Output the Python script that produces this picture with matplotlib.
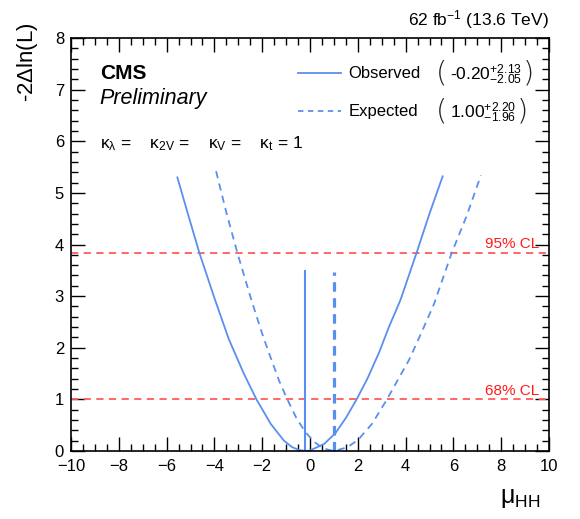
import matplotlib
matplotlib.use('Agg')
import matplotlib.pyplot as plt
from matplotlib.ticker import MultipleLocator

plt.rcParams['font.family'] = ['Liberation Sans', 'DejaVu Sans']
plt.rcParams['mathtext.fontset'] = 'custom'
plt.rcParams['mathtext.rm'] = 'Liberation Sans'
plt.rcParams['mathtext.it'] = 'Liberation Sans:italic'
plt.rcParams['mathtext.bf'] = 'Liberation Sans:bold'

# likelihood scan values
obs_mu = [-5.55, -5.10, -4.63, -3.99, -3.40, -2.77, -2.24, -1.65, -1.09, -0.75, -0.46,
          -0.20, 0.00, 0.60, 1.07, 1.50, 1.95, 2.40, 2.90, 3.30, 3.78, 4.46, 5.00, 5.55]
obs_q = [5.30, 4.58, 3.84, 2.95, 2.17, 1.50, 1.00, 0.53, 0.20, 0.075, 0.02,
         0.00, 0.01, 0.14, 0.35, 0.64, 1.00, 1.40, 1.92, 2.40, 2.92, 3.84, 4.60, 5.32]
exp_mu = [-3.93, -3.50, -3.04, -2.45, -2.00, -1.71, -1.30, -0.95, -0.55, -0.18, 0.17,
          0.55, 1.00, 1.55, 2.00, 2.60, 3.22, 3.70, 4.14, 4.65, 5.19, 5.93, 6.55, 7.15]
exp_q = [5.42, 4.62, 3.84, 2.92, 2.27, 1.89, 1.37, 1.00, 0.62, 0.36, 0.18,
         0.05, 0.00, 0.07, 0.21, 0.53, 1.00, 1.40, 1.76, 2.28, 2.85, 3.84, 4.55, 5.34]
obs_best, obs_best_h = -0.20, 3.50
exp_best, exp_best_h = 1.00, 3.46
cl_levels = [1.0, 3.84]
cl_labels = ['68% CL', '95% CL']
leg_labels = ['Observed', 'Expected']
leg_values = [r'-0.20$^{+2.13}_{-2.05}$', r'1.00$^{+2.20}_{-1.96}$']

blue = '#5a8ff0'
red = '#ff5a5a'

fig = plt.figure(figsize=(5.8, 5.19), dpi=100)
ax = fig.add_axes([0.1224, 0.131, 0.8242, 0.7958])

for lev, lab in zip(cl_levels, cl_labels):
    ax.axhline(lev, color=red, lw=1.3, ls=(0, (4, 3)))
    ax.text(9.6, lev + 0.03, lab, color='#ff1a1a', fontsize=11, ha='right', va='bottom')

ax.plot(obs_mu, obs_q, color=blue, lw=1.3)
ax.plot(exp_mu, exp_q, color=blue, lw=1.3, ls=(0, (4, 3)))
ax.vlines(obs_best, 0, obs_best_h, color=blue, lw=1.5)
ax.vlines(exp_best, 0, exp_best_h, color=blue, lw=2.3, ls=(0, (3, 2)))

ax.set_xlim(-10, 10)
ax.set_ylim(0, 8)
ax.xaxis.set_major_locator(MultipleLocator(2))
ax.xaxis.set_minor_locator(MultipleLocator(0.5))
ax.yaxis.set_major_locator(MultipleLocator(1))
ax.yaxis.set_minor_locator(MultipleLocator(0.2))
ax.tick_params(which='both', direction='in', top=True, right=True, labelsize=12, width=1)
ax.tick_params(which='major', length=10)
ax.tick_params(which='minor', length=5)
ax.tick_params(axis='x', pad=6)
ax.tick_params(axis='y', pad=5)
for s in ax.spines.values():
    s.set_linewidth(1.2)

fig.text(0.932, 0.018, r'μ$_{\mathrm{HH}}$', fontsize=18, ha='right', va='bottom')
fig.text(0.048, 0.958, r'-2$\Delta$ln(L)', fontsize=16, rotation=90, ha='center', va='top')

ax.text(0.06, 0.915, 'CMS', transform=ax.transAxes, fontsize=15, fontweight='bold', va='center')
ax.text(0.06, 0.853, 'Preliminary', transform=ax.transAxes, fontsize=15.5, style='italic',
        va='center')
ax.text(0.06, 0.745,
        r'κ$_{\mathrm{λ}}$ =    κ$_{\mathrm{2V}}$ =    κ$_{\mathrm{V}}$ =    κ$_{\mathrm{t}}$ = 1',
        transform=ax.transAxes, fontsize=12.5, va='center')

ax.text(1.0, 1.018, r'62 fb$^{-1}$ (13.6 TeV)', transform=ax.transAxes, fontsize=12.5,
        ha='right', va='bottom')

# legend
leg_y = [0.915, 0.823]
leg_ls = ['-', (0, (3, 2.5))]
leg_close = [0.944, 0.932]
for y, ls, lab, val, xc in zip(leg_y, leg_ls, leg_labels, leg_values, leg_close):
    ax.plot([0.475, 0.565], [y, y], transform=ax.transAxes, color=blue, lw=1.3, ls=ls)
    ax.text(0.58, y, lab, transform=ax.transAxes, fontsize=12, va='center')
    ax.text(0.764, y, '(', transform=ax.transAxes, fontsize=21, va='center',
            fontweight='light', fontfamily='DejaVu Sans', color='#222222')
    ax.text(0.792, y - 0.004, val, transform=ax.transAxes, fontsize=12.5, va='center')
    ax.text(xc, y, ')', transform=ax.transAxes, fontsize=21, va='center',
            fontweight='light', fontfamily='DejaVu Sans', color='#222222')

fig.savefig('out.png', dpi=100)
